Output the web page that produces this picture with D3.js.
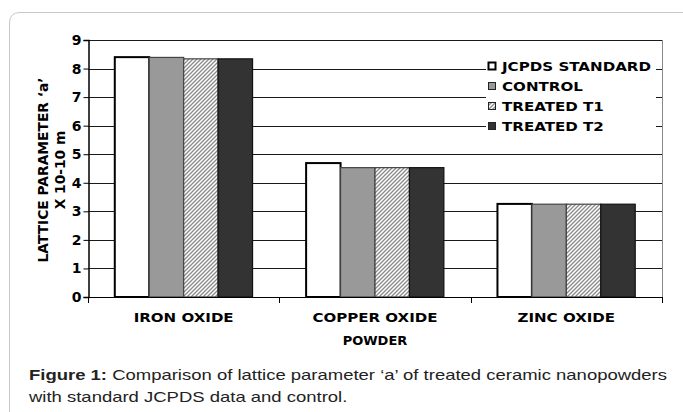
<!DOCTYPE html>
<html><head><meta charset="utf-8">
<script src="https://cdn.jsdelivr.net/npm/d3@7"></script>
<style>
html,body{margin:0;padding:0;background:#fff;}
svg{display:block;}
</style></head>
<body>
<svg id="chart" width="683" height="412"></svg>
<script>
const categories = ["IRON OXIDE", "COPPER OXIDE", "ZINC OXIDE"];
const seriesNames = ["JCPDS STANDARD", "CONTROL", "TREATED T1", "TREATED T2"];
const jcpds = [8.40, 4.69, 3.26];
const control = [8.39, 4.53, 3.25];
const treatedT1 = [8.34, 4.53, 3.25];
const treatedT2 = [8.34, 4.53, 3.25];
const yTicks = [0, 1, 2, 3, 4, 5, 6, 7, 8, 9];
const xTitle = "POWDER";
const yTitle1 = "LATTICE PARAMETER \u2018a\u2019";
const yTitle2 = "X 10-10 m";
const captionBold = "Figure 1:";
const captionRest1 = " Comparison of lattice parameter \u2018a\u2019 of treated ceramic nanopowders";
const captionLine2 = "with standard JCPDS data and control.";

const seriesValues = [jcpds, control, treatedT1, treatedT2];

const svg = d3.select("#chart");
const FONT = "DejaVu Sans, Verdana, sans-serif";

// stretch a group of texts horizontally by the factor that makes the reference element reach a width
function stretch(sel, refNode, width) {
  const k = width / refNode.getComputedTextLength();
  sel.each(function () {
    const L = this.getComputedTextLength();
    d3.select(this).attr("textLength", L * k).attr("lengthAdjust", "spacingAndGlyphs");
  });
}

const defs = svg.append("defs");
const pat = defs.append("pattern").attr("id","hatch").attr("patternUnits","userSpaceOnUse")
  .attr("width",4).attr("height",4);
pat.append("rect").attr("width",4).attr("height",4).attr("fill","#fff");
pat.append("path").attr("d","M-1,1 l2,-2 M0,4 l4,-4 M3,5 l2,-2").attr("stroke","#8a8a8a").attr("stroke-width",1.3);

const fills = ["#ffffff", "#999999", "url(#hatch)", "#333333"];
const strokes = ["#000", "#444", "#444", "#111"];
const strokeW = [2, 1.2, 1.2, 1.2];

// outer frame
svg.append("path").attr("d","M9.5,412 L9.5,23 Q9.5,12.5 20,12.5 L683,12.5")
  .attr("fill","none").attr("stroke","#c8c8c8").attr("stroke-width",1);

const pLeft = 88, pRight = 662, pTop = 40, pBottom = 297;
const y = d3.scaleLinear().domain([0, 9]).range([pBottom, pTop]);
const x0 = d3.scaleBand().domain(categories).range([pLeft, pRight]).paddingInner(0.28).paddingOuter(0.14);
const x1 = d3.scaleBand().domain(seriesNames).range([0, x0.bandwidth()]);

// gridlines
svg.append("g").selectAll("line").data(yTicks.filter(d => d > 0)).join("line")
  .attr("x1", pLeft).attr("x2", pRight)
  .attr("y1", d => Math.round(y(d)) + 0.5).attr("y2", d => Math.round(y(d)) + 0.5)
  .attr("stroke", "#1a1a1a").attr("stroke-width", 1);
// right border
svg.append("line").attr("x1", pRight + 0.5).attr("x2", pRight + 0.5).attr("y1", Math.round(y(9))).attr("y2", pBottom)
  .attr("stroke", "#888");

// bars
const data = [];
categories.forEach((c, i) => seriesNames.forEach((s, j) => data.push({c, s, j, v: seriesValues[j][i]})));
svg.append("g").selectAll("rect").data(data).join("rect")
  .attr("x", d => x0(d.c) + x1(d.s))
  .attr("y", d => y(d.v))
  .attr("width", x1.bandwidth())
  .attr("height", d => y(0) - y(d.v))
  .attr("fill", d => fills[d.j])
  .attr("stroke", d => strokes[d.j])
  .attr("stroke-width", d => strokeW[d.j]);

// y axis
const yAxis = d3.axisLeft(y).tickValues(yTicks).tickSize(5).tickPadding(2).tickFormat(d3.format("d"));
const gy = svg.append("g").attr("transform", `translate(${pLeft + 0.5},0)`).call(yAxis);
gy.select(".domain").attr("stroke", "#000").attr("stroke-width", 1.5);
gy.selectAll(".tick line").attr("stroke", "#000");
gy.selectAll(".tick text").attr("font-family", FONT).attr("font-weight", "bold").attr("font-size", 14).attr("fill", "#000");

// x axis baseline
svg.append("line").attr("x1", pLeft).attr("x2", pRight + 0.5).attr("y1", pBottom + 0.5).attr("y2", pBottom + 0.5)
  .attr("stroke", "#000").attr("stroke-width", 1);
// boundary ticks
const bounds = [pLeft, ...categories.map(c => x0(c) + x0.bandwidth() + x0.step() * x0.paddingInner() / 2)];
bounds[bounds.length - 1] = pRight;
svg.append("g").selectAll("line").data(bounds).join("line")
  .attr("x1", d => Math.round(d) + 0.5).attr("x2", d => Math.round(d) + 0.5)
  .attr("y1", pBottom).attr("y2", pBottom + 6).attr("stroke", "#000");
// category labels
const catLabels = svg.append("g").selectAll("text").data(categories).join("text")
  .attr("x", d => x0(d) + x0.bandwidth() / 2).attr("y", 321.5)
  .attr("text-anchor", "middle").attr("font-family", FONT).attr("font-weight", "bold")
  .attr("font-size", 13).text(d => d);
const xt = svg.append("text").attr("x", (pLeft + pRight) / 2).attr("y", 345).attr("text-anchor", "middle")
  .attr("font-family", FONT).attr("font-weight", "bold").attr("font-size", 13).text(xTitle);
stretch(catLabels.merge(xt), catLabels.node(), 100);

// y title
const yt = svg.append("g").attr("transform", `translate(0,170) rotate(-90)`)
  .attr("font-family", FONT).attr("font-weight", "bold").attr("font-size", 13.5);
const yt1 = yt.append("text").attr("text-anchor", "middle").attr("x", 0).attr("y", 48).text(yTitle1);
const yt2 = yt.append("text").attr("text-anchor", "middle").attr("x", 0).attr("y", 65).text(yTitle2);
stretch(yt.selectAll("text"), yt1.node(), 185);

// legend
const lg = svg.append("g");
lg.append("rect").attr("x", 486).attr("y", 56).attr("width", 170).attr("height", 81).attr("fill", "#fff");
const items = lg.selectAll("g.item").data(seriesNames).join("g").attr("class", "item")
  .attr("transform", (d, i) => `translate(488,${66 + i * 20})`);
items.append("rect").attr("x", 0.5).attr("y", -3.5).attr("width", 7).attr("height", 7)
  .attr("fill", (d, i) => fills[i]).attr("stroke", (d, i) => i === 0 ? "#000" : "#222").attr("stroke-width", (d, i) => i === 0 ? 2 : 1);
const legTexts = items.append("text").attr("x", 14).attr("y", 4.7).attr("font-family", FONT).attr("font-weight", "bold")
  .attr("font-size", 13).text(d => d);
stretch(legTexts, legTexts.node(), 149);

// caption
const cap = svg.append("g").attr("font-family", "Liberation Sans, Arial, sans-serif").attr("font-size", 15).attr("fill", "#222");
const c1 = cap.append("text").attr("x", 29).attr("y", 380);
c1.append("tspan").attr("font-weight", "bold").text(captionBold);
c1.append("tspan").text(captionRest1);
const c2 = cap.append("text").attr("x", 29).attr("y", 402).text(captionLine2);
stretch(cap.selectAll("text"), c1.node(), 638);
</script>
</body></html>
